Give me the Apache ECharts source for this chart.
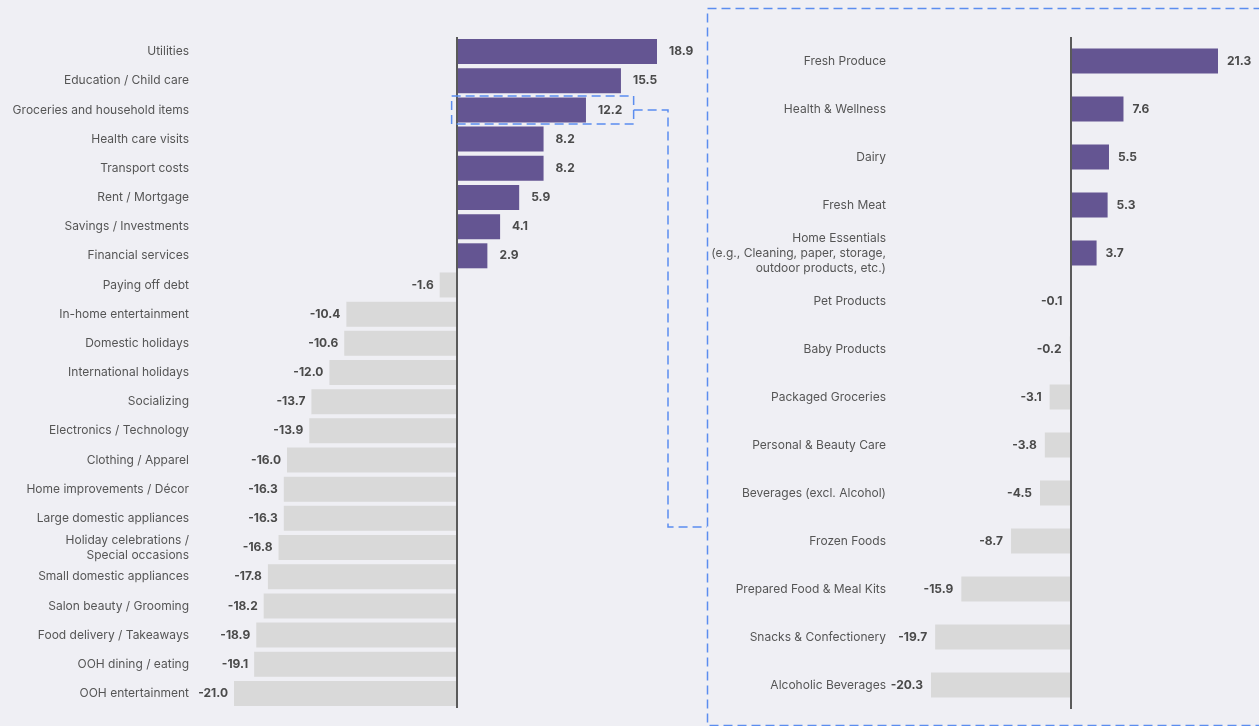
<!DOCTYPE html>
<html>
<head>
<meta charset="utf-8">
<title>Spending change</title>
<script src="https://cdn.jsdelivr.net/npm/echarts@6/dist/echarts.min.js"></script>
<style>
html, body { margin: 0; padding: 0; background: #efeff4; }
#chart { width: 1259px; height: 726px; }
</style>
</head>
<body>
<div id="chart"></div>
<script>
// overall spending categories (left)
var spendCategories = [
  'Utilities', 'Education / Child care', 'Groceries and household items',
  'Health care visits', 'Transport costs', 'Rent / Mortgage',
  'Savings / Investments', 'Financial services', 'Paying off debt',
  'In-home entertainment', 'Domestic holidays', 'International holidays',
  'Socializing', 'Electronics / Technology', 'Clothing / Apparel',
  'Home improvements / Décor', 'Large domestic appliances',
  'Holiday celebrations /\nSpecial occasions', 'Small domestic appliances',
  'Salon beauty / Grooming', 'Food delivery / Takeaways',
  'OOH dining / eating', 'OOH entertainment'
]
var spendValues = [18.9, 15.5, 12.2, 8.2, 8.2, 5.9, 4.1, 2.9, -1.6, -10.4, -10.6,
  -12.0, -13.7, -13.9, -16.0, -16.3, -16.3, -16.8, -17.8, -18.2, -18.9, -19.1, -21.0]

// grocery breakdown (right)
var groceryCategories = [
  'Fresh Produce', 'Health & Wellness', 'Dairy', 'Fresh Meat',
  'Home Essentials\n(e.g., Cleaning, paper, storage,\noutdoor products, etc.)',
  'Pet Products', 'Baby Products', 'Packaged Groceries', 'Personal & Beauty Care',
  'Beverages (excl. Alcohol)', 'Frozen Foods', 'Prepared Food & Meal Kits',
  'Snacks & Confectionery', 'Alcoholic Beverages'
]
var groceryValues = [21.3, 7.6, 5.5, 5.3, 3.7, -0.1, -0.2, -3.1, -3.8, -4.5, -8.7, -15.9, -19.7, -20.3]

var UP = '#645592'
var DOWN = '#d9d9d9'
var FONT = 'Inter, "Noto Sans", sans-serif'
var DASH = '#5b8def'

function toItems(values, posDist, negDist) {
  return values.map(function(v) {
    return {
      value: v,
      itemStyle: { color: v < 0 ? DOWN : UP },
      label: {
        position: v < 0 ? 'left' : 'right',
        distance: v < 0 ? negDist : posDist
      }
    }
  })
}

function barSeries(idx, values, posDist, negDist) {
  return {
    type: 'bar',
    xAxisIndex: idx,
    yAxisIndex: idx,
    barWidth: 25,
    data: toItems(values, posDist, negDist),
    label: {
      show: true,
      fontFamily: FONT,
      fontSize: 12,
      fontWeight: 'bold',
      color: '#4a4a4a',
      formatter: function(p) { return p.value.toFixed(1) }
    },
    markLine: {
      silent: true,
      symbol: 'none',
      label: { show: false },
      lineStyle: { color: '#5a5a5a', width: 2, type: 'solid' },
      data: [{ xAxis: 0 }]
    }
  }
}

function catAxis(idx, cats) {
  return {
    type: 'category',
    gridIndex: idx,
    inverse: true,
    data: cats,
    axisLine: { show: false },
    axisTick: { show: false },
    axisLabel: {
      margin: 45,
      fontFamily: FONT,
      fontSize: 12,
      lineHeight: 15,
      color: '#555'
    }
  }
}

function valAxis(idx, values) {
  return {
    type: 'value',
    gridIndex: idx,
    min: Math.min.apply(null, values),
    max: Math.max.apply(null, values),
    show: false
  }
}

var chart = echarts.init(document.getElementById('chart'))
chart.setOption({
  backgroundColor: '#efeff4',
  animation: false,
  grid: [
    { left: 234, width: 423, top: 37, height: 671, outerBoundsMode: 'none' },
    { left: 931, width: 287, top: 37, height: 672, outerBoundsMode: 'none' }
  ],
  xAxis: [valAxis(0, spendValues), valAxis(1, groceryValues)],
  yAxis: [catAxis(0, spendCategories), catAxis(1, groceryCategories)],
  series: [
    barSeries(0, spendValues, 12, 6),
    barSeries(1, groceryValues, 9, 8)
  ]
})

// callout: box round the groceries row, linked to the breakdown panel
var gy = chart.convertToPixel({ yAxisIndex: 0 }, 2)
var gx = chart.convertToPixel({ xAxisIndex: 0 }, 0)
var dashStyle = { stroke: DASH, lineWidth: 1.5, lineDash: [9, 5], fill: null }
chart.setOption({
  graphic: [
    {
      type: 'rect',
      shape: { x: gx - 5, y: gy - 14, width: 182, height: 28 },
      style: dashStyle,
      z: 10
    },
    {
      type: 'polyline',
      shape: { points: [[gx + 177, gy], [668, gy], [668, 527], [707, 527]] },
      style: dashStyle,
      z: 10
    },
    {
      type: 'rect',
      shape: { x: 707.5, y: 8.5, width: 620, height: 717 },
      style: dashStyle,
      z: 10
    }
  ]
})
window.addEventListener('resize', function() { chart.resize() })
</script>
</body>
</html>
